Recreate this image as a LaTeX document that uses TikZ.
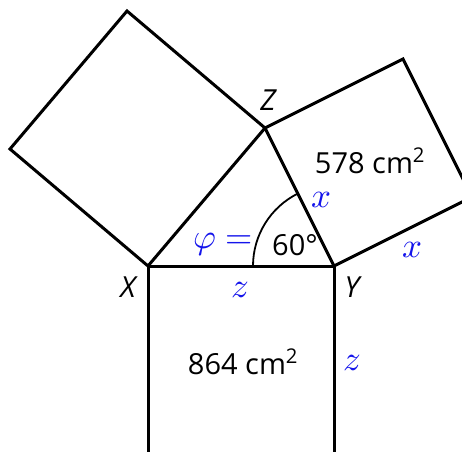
\documentclass[tikz,border=0pt]{standalone}
\usepackage{amsmath}
\usepackage{fontspec}
\usepackage{unicode-math}
\setmainfont{Open Sans}
\setmathfont{Latin Modern Math}
\usetikzlibrary{calc,angles}

\definecolor{varblue}{RGB}{20,20,235}

\begin{document}
\begin{tikzpicture}[x=1pt, y=1pt,
        side/.style={line width=3pt, line join=miter},
        area/.style={inner sep=0pt, font=\fontsize{29}{34}\selectfont},
        vertex/.style={inner sep=0pt, font=\fontsize{29}{34}\selectfont\itshape},
        var/.style={inner sep=0pt, text=varblue, font=\fontsize{35}{40}\selectfont}
    ]

        % Frame
        \useasboundingbox (0,0) rectangle (462,451);
        \clip (0,0) rectangle (462,451);

        % Triangle corners
        \coordinate (X) at (148,185);
        \coordinate (Y) at (334,185);
        \coordinate (Z) at (265,323);

        % Outer corners of the squares
        \coordinate (xz1) at ($(Z)!1!-90:(X)$);
        \coordinate (xz2) at ($(X)!1!90:(Z)$);
        \coordinate (yz1) at ($(Z)!1!90:(Y)$);
        \coordinate (yz2) at ($(Y)!1!-90:(Z)$);
        \coordinate (xy1) at ($(Y)!1.05!90:(X)$); % runs out of the frame
        \coordinate (xy2) at ($(X)!1.05!-90:(Y)$);

        % Squares
        \draw[side] (X) -- (Z) -- (xz1) -- (xz2) -- cycle;
        \draw[side] (Z) -- (yz1) -- (yz2) -- (Y) -- cycle;
        \draw[side] (xy2) -- (X) -- (Y) -- (xy1);

        % Angle at Y
        \pic[draw, line width=1.8pt, angle radius=81pt] {angle = Z--Y--X};

        % Labels
        \node[vertex] (lblZ) at (268,351) {Z};
        \node[vertex] (lblX) at (128,164) {X};
        \node[vertex] (lblY) at (352,164) {Y};

        \node[area] (areaYZ) at (370,290) {578 cm\textsuperscript{2}};
        \node[area] (areaXY) at (243,89) {864 cm\textsuperscript{2}};
        \node[area] (angle) at (295,206) {60°};

        \node[var] (phi) at (223,206) {$\varphi =$};
        \node[var] (x1) at (322,251) {$x$};
        \node[var] (x2) at (413,201) {$x$};
        \node[var] (z1) at (240,161) {$z$};
        \node[var] (z2) at (352,88) {$z$};

    \end{tikzpicture}
\end{document}
